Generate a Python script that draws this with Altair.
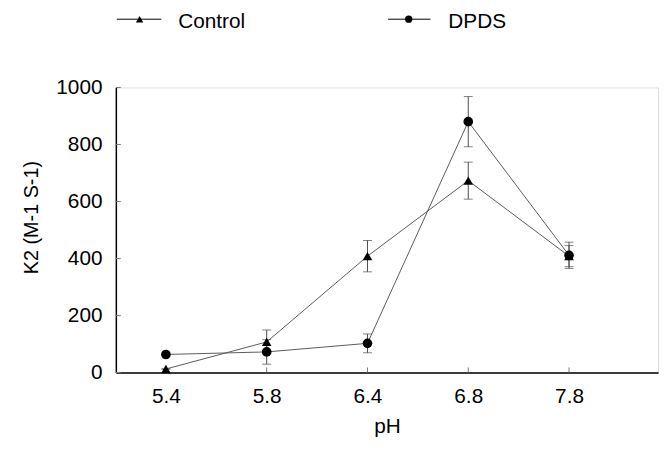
import altair as alt
import pandas as pd

# ---- data ----
ph = ["5.4", "5.8", "6.4", "6.8", "7.8"]
series_names = ["Control", "DPDS"]
control = [12, 107, 408, 673, 408]
control_err = [0, 42, 55, 65, 37]
dpds = [63, 72, 102, 880, 411]
dpds_err = [0, 43, 33, 88, 46]
y_ticks = [0, 200, 400, 600, 800, 1000]

rows = []
for name, vals, errs in [("Control", control, control_err), ("DPDS", dpds, dpds_err)]:
    for p, v, e in zip(ph, vals, errs):
        rows.append({"pH": p, "series": name, "value": v, "lo": v - e, "hi": v + e})
df = pd.DataFrame(rows)

FONT = "Liberation Sans"
FS = 21
W, H = 548, 288
LINE_C = "#5a5a5a"
ERR_C = "#4a4a4a"

xenc = alt.X("pH:N", sort=ph,
             scale=alt.Scale(type="point", padding=0.69, align=0.36),
             axis=alt.Axis(title="pH", labelAngle=0, ticks=False, grid=False,
                           domainColor="black", domainWidth=1.5,
                           labelFontSize=FS, labelFont=FONT, labelColor="black",
                           labelPadding=13, titleFont=FONT, titleFontSize=FS,
                           titleFontWeight="normal", titleColor="black",
                           titleY=44))
yscale = alt.Scale(domain=[0, 1000], nice=False)
yenc = alt.Y("value:Q", scale=yscale,
             axis=alt.Axis(title="K2 (M-1 S-1)", values=y_ticks, format="d",
                           ticks=False, grid=False,
                           domainColor="black", domainWidth=1.5,
                           labelFontSize=FS, labelFont=FONT, labelColor="black",
                           labelPadding=14, titleFont=FONT, titleFontSize=20,
                           titleFontWeight="normal", titleColor="black",
                           titleX=-75, titleY=131))

base = alt.Chart(df)

err_rule = base.mark_rule(color=ERR_C, strokeWidth=1).encode(
    x=xenc, y=alt.Y("lo:Q", scale=yscale), y2="hi:Q", detail="series:N")
cap_lo = base.mark_tick(color=ERR_C, thickness=1, size=9, orient="horizontal").encode(
    x=xenc, y=alt.Y("lo:Q", scale=yscale), detail="series:N")
cap_hi = base.mark_tick(color=ERR_C, thickness=1, size=9, orient="horizontal").encode(
    x=xenc, y=alt.Y("hi:Q", scale=yscale), detail="series:N")
lines = base.mark_line(color=LINE_C, strokeWidth=1).encode(
    x=xenc, y=yenc, detail="series:N")
points = base.mark_point(filled=True, color="black", opacity=1, size=95).encode(
    x=xenc, y=alt.Y("value:Q", scale=yscale),
    shape=alt.Shape("series:N", scale=alt.Scale(domain=series_names,
                                                range=["triangle-up", "circle"]),
                    legend=None))

# inward ticks
ytick_df = pd.DataFrame({"value": y_ticks})
ytick_rules = alt.Chart(ytick_df).mark_rule(color="#777777", strokeWidth=1).encode(
    y=alt.Y("value:Q", scale=yscale), x=alt.value(0), x2=alt.value(5))
xtick_df = pd.DataFrame({"pH": ph})
xtick_rules = alt.Chart(xtick_df).mark_rule(color="#777777", strokeWidth=1).encode(
    x=xenc, y=alt.value(H), y2=alt.value(H - 5))

# manual legend above the plot
legend_layers = []
leg_pos = {"Control": (1, 24, 46, 63), "DPDS": (275, 296, 318, 336)}
leg_shape = {"Control": "triangle-up", "DPDS": "circle"}
LY = -69
for name in series_names:
    x0, xm, x1, xt = leg_pos[name]
    ldf = pd.DataFrame({"series": [name]})
    lc = alt.Chart(ldf)
    legend_layers.append(lc.mark_rule(color="black", strokeWidth=1).encode(
        x=alt.value(x0), x2=alt.value(x1), y=alt.value(LY)))
    legend_layers.append(lc.mark_point(filled=True, color="black", opacity=1, size=55,
                                       shape=leg_shape[name]).encode(
        x=alt.value(xm), y=alt.value(LY)))
    legend_layers.append(lc.mark_text(font=FONT, fontSize=FS, align="left",
                                      baseline="middle", color="black").encode(
        x=alt.value(xt), y=alt.value(LY + 2.5), text="series:N"))

chart = alt.layer(
    ytick_rules, xtick_rules, err_rule, cap_lo, cap_hi, lines, points, *legend_layers
).properties(
    width=W, height=H,
    autosize=alt.AutoSizeParams(type="none"),
    padding={"left": 109, "top": 78, "right": 5, "bottom": 68},
).configure_view(stroke=None).configure(background="white")

chart.save("out.html", embed_options={"renderer": "svg", "actions": False})
